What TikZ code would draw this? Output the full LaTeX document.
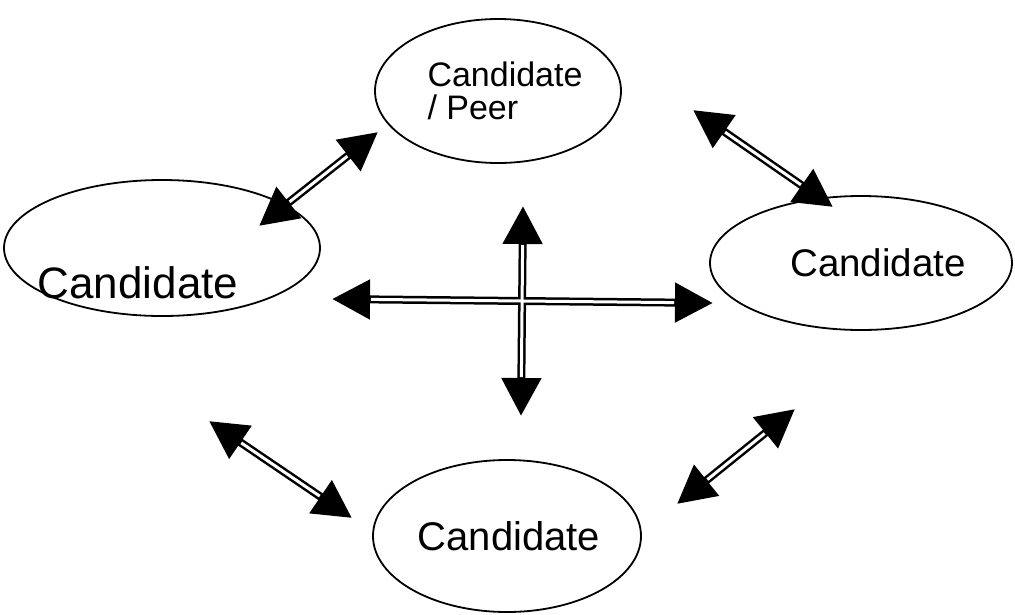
\documentclass[tikz,border=0pt]{standalone}
\usepackage{fontspec}
\setmainfont{Liberation Sans}
\usetikzlibrary{arrows.meta,shapes.geometric}
\begin{document}
\begin{tikzpicture}[x=1pt,y=-1pt,
  cand/.style={draw=black, line width=1.8pt, ellipse, inner sep=0pt},
  lbl/.style={inner sep=0pt, align=left},
  link/.style={line width=8pt, {Triangle[length=38pt,width=38pt]}-{Triangle[length=38pt,width=38pt]}},
  core/.style={white, line width=3pt, shorten <=39pt, shorten >=39pt}]
\useasboundingbox (0,0) rectangle (1015,614);
% peers
\node[cand, minimum width=246pt, minimum height=144pt] (top) at (498,91) {};
\node[cand, minimum width=316pt, minimum height=136pt] (left) at (162,248) {};
\node[cand, minimum width=302pt, minimum height=134pt] (right) at (861,263) {};
\node[cand, minimum width=268pt, minimum height=152pt] (bottom) at (507,536) {};
% labels
\node[lbl, font=\fontsize{34}{33}\selectfont] (ttop) at (505,91) {Candidate\\/ Peer};
\node[lbl, font=\fontsize{44}{44}\selectfont] (tleft) at (138,283) {Candidate};
\node[lbl, font=\fontsize{38.5}{40}\selectfont] (tright) at (878,263) {Candidate};
\node[lbl, font=\fontsize{40}{40}\selectfont] (tbottom) at (509,536) {Candidate};
% arrow end points
\coordinate (a1) at (259,226); \coordinate (a2) at (378,132);
\coordinate (b1) at (693,110); \coordinate (b2) at (833,207);
\coordinate (c1) at (332,299); \coordinate (c2) at (713,303);
\coordinate (d1) at (523,206); \coordinate (d2) at (521,416);
\coordinate (e1) at (209,421); \coordinate (e2) at (352,518);
\coordinate (f1) at (677,504); \coordinate (f2) at (795,409);
% double-shafted arrows
\foreach \p/\q in {a1/a2,b1/b2,c1/c2,d1/d2,e1/e2,f1/f2}{
  \draw[link] (\p) -- (\q);
}
\foreach \p/\q in {a1/a2,b1/b2,c1/c2,d1/d2,e1/e2,f1/f2}{
  \draw[core] (\p) -- (\q);
}
\end{tikzpicture}
\end{document}
